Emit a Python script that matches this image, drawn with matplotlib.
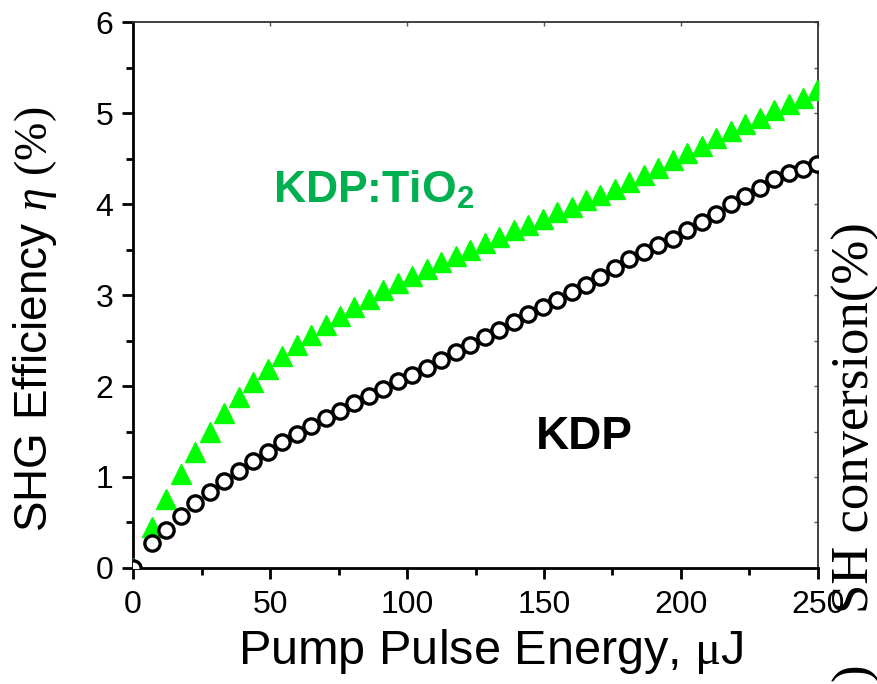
import matplotlib
matplotlib.use("Agg")
import matplotlib.pyplot as plt
from matplotlib.ticker import MultipleLocator

plt.rcParams["font.family"] = ["Liberation Sans", "DejaVu Sans"]
plt.rcParams["mathtext.fontset"] = "custom"
plt.rcParams["mathtext.rm"] = "Liberation Serif"
plt.rcParams["mathtext.it"] = "Liberation Serif:italic"
plt.rcParams["mathtext.bf"] = "Liberation Sans:bold"

# pump pulse energy (uJ), shared by both samples
energy = [0, 6.9, 12.2, 17.5, 22.7, 28.0, 33.3, 38.6, 43.9, 49.1, 54.4, 59.7,
          65.0, 70.3, 75.6, 80.8, 86.1, 91.4, 96.7, 102.0, 107.2, 112.5, 117.8,
          123.1, 128.4, 133.6, 138.9, 144.2, 149.5, 154.8, 160.1, 165.3, 170.6,
          175.9, 181.2, 186.5, 191.7, 197.0, 202.3, 207.6, 212.9, 218.1, 223.4,
          228.7, 234.0, 239.3, 244.5, 249.8]

# SHG efficiency (%)
eff_kdp = [0, 0.27, 0.42, 0.57, 0.71, 0.84, 0.96, 1.07, 1.18, 1.28, 1.38, 1.47,
           1.56, 1.65, 1.73, 1.81, 1.89, 1.97, 2.05, 2.12, 2.20, 2.29, 2.37,
           2.45, 2.54, 2.62, 2.70, 2.79, 2.87, 2.95, 3.03, 3.11, 3.20,
           3.30, 3.40, 3.47, 3.55, 3.62, 3.71, 3.80, 3.89, 4.00, 4.09,
           4.18, 4.27, 4.34, 4.39, 4.44]

eff_tio2 = [0, 0.45, 0.76, 1.03, 1.28, 1.50, 1.70, 1.88, 2.04, 2.19, 2.33, 2.45,
            2.56, 2.67, 2.77, 2.87, 2.96, 3.05, 3.13, 3.21, 3.29, 3.36, 3.43,
            3.50, 3.57, 3.64, 3.71, 3.77, 3.84, 3.91, 3.97, 4.04, 4.10,
            4.17, 4.24, 4.32, 4.40, 4.48, 4.56, 4.64, 4.72, 4.80, 4.88,
            4.95, 5.03, 5.10, 5.17, 5.25]

fig = plt.figure(figsize=(8.77, 6.84), dpi=100)
ax = fig.add_axes([0.1517, 0.1696, 0.7810, 0.7982])

ax.plot(energy, eff_tio2, linestyle="none", marker="^", ms=15,
        color="#00ff00", mec="#00ff00", zorder=3)
ax.plot(energy, eff_kdp, linestyle="none", marker="o", ms=11,
        mfc="white", mec="black", mew=2.4, zorder=4)

ax.set_xlim(0, 250)
ax.set_ylim(0, 6)
ax.xaxis.set_major_locator(MultipleLocator(50))
ax.xaxis.set_minor_locator(MultipleLocator(25))
ax.yaxis.set_major_locator(MultipleLocator(1))
ax.yaxis.set_minor_locator(MultipleLocator(0.5))

ax.tick_params(which="major", direction="out", length=8, width=2,
               labelsize=23, pad=6)
ax.tick_params(axis="x", which="major", pad=8)
ax.tick_params(which="minor", direction="out", length=5, width=2)

for side in ("left", "bottom"):
    ax.spines[side].set_linewidth(2)
for side in ("top", "right"):
    ax.spines[side].set_linewidth(1.3)
    ax.spines[side].set_color("#333333")

# small inward ticks on the top and right frame
top = ax.secondary_xaxis("top")
top.xaxis.set_major_locator(MultipleLocator(50))
top.tick_params(direction="in", length=3, width=1, colors="#555555",
                labeltop=False)
right = ax.secondary_yaxis("right")
right.yaxis.set_major_locator(MultipleLocator(0.5))
right.tick_params(direction="in", length=3, width=1, colors="#555555",
                  labelright=False)
for sec in (top, right):
    for sp in sec.spines.values():
        sp.set_visible(False)

ax.set_xlabel(r"Pump Pulse Energy, $\mathrm{\mu}$J", fontsize=35)
ax.xaxis.set_label_coords(0.522, -0.108)
ax.set_ylabel(r"SHG Efficiency $\mathit{\eta}$ $\mathrm{(\%)}$", fontsize=33)
ax.yaxis.set_label_coords(-0.108, 0.455)

ax.text(51, 4.02, r"KDP:TiO$_\mathbf{2}$", color="#00b050", fontsize=32,
        fontweight="bold")
ax.text(147, 1.31, "KDP", color="black", fontsize=33, fontweight="bold")

# leftover labels of a neighbouring panel, cut off at the figure edge
fig.text(0.99, 0.104, "SH conversion(%)", rotation=90, rotation_mode="anchor",
         ha="left", va="baseline", fontsize=38, family="Liberation Serif")
fig.text(0.99, 0.005, ")", rotation=90, rotation_mode="anchor",
         ha="left", va="baseline", fontsize=38, family="Liberation Serif")

fig.savefig("out.png", dpi=100)
